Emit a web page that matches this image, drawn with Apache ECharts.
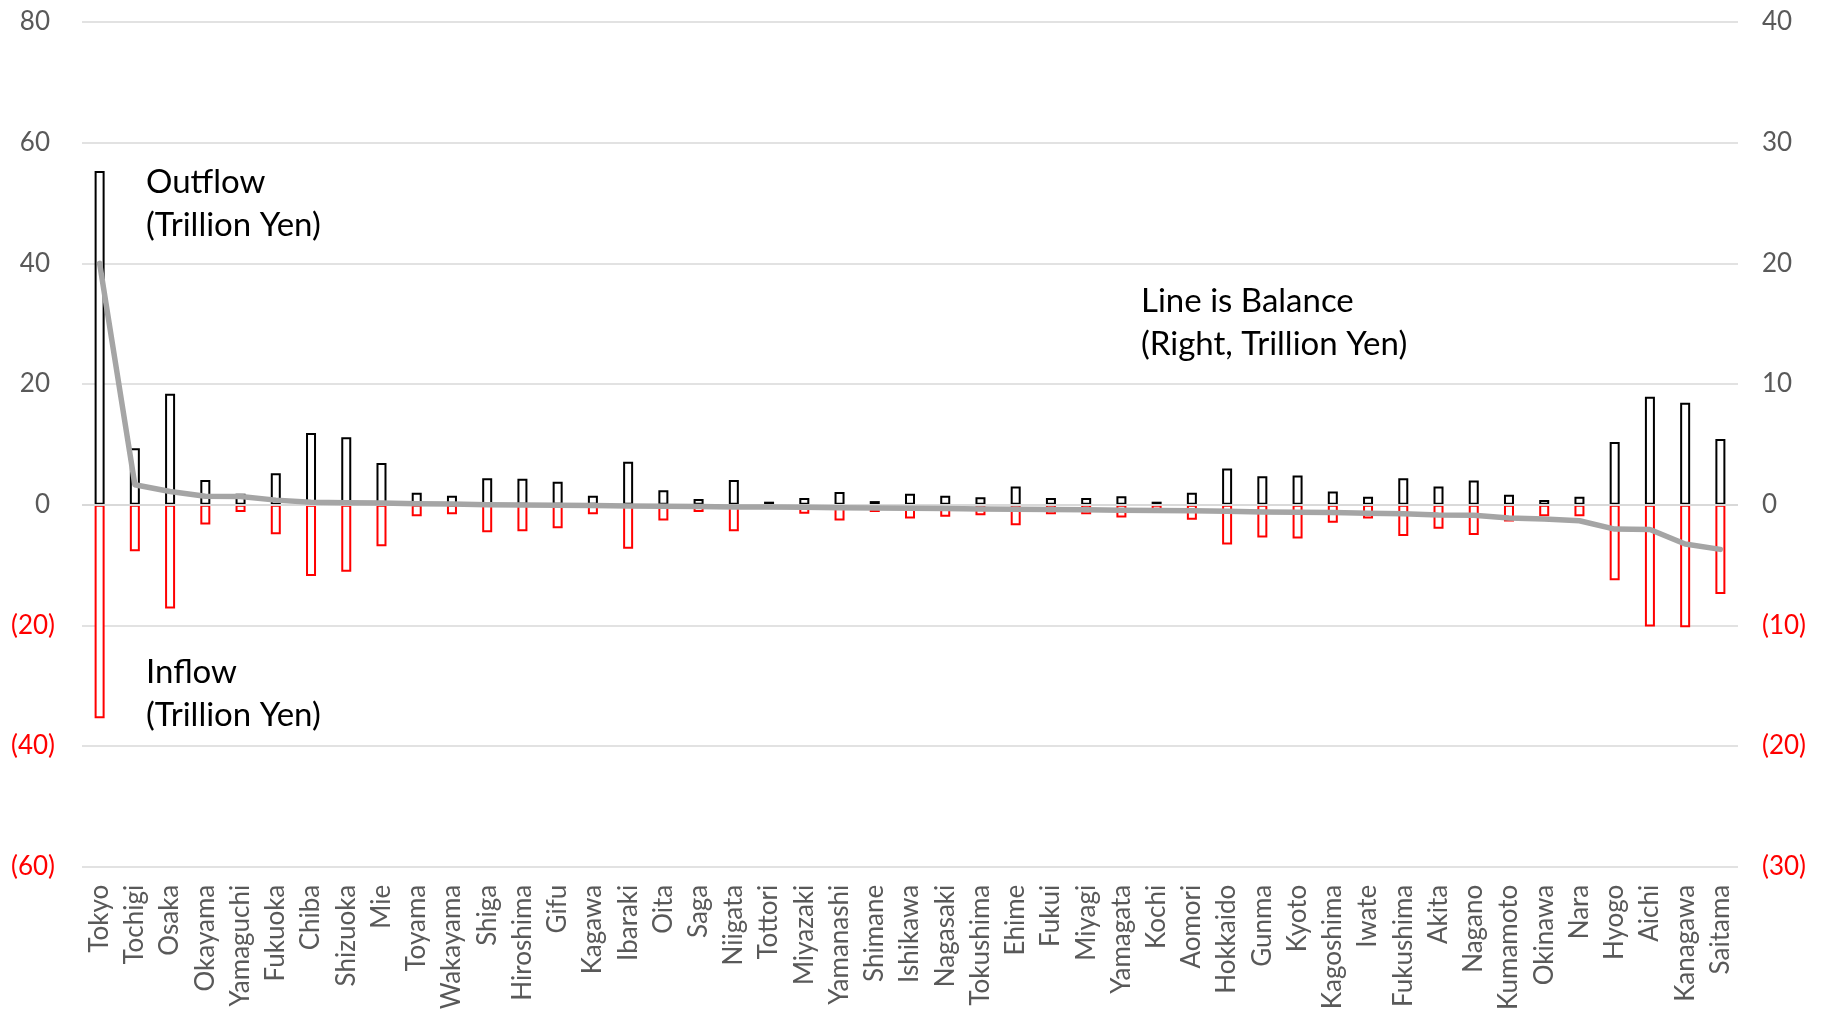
<!DOCTYPE html>
<html>
<head>
<meta charset="utf-8">
<title>Prefectural Outflow, Inflow and Balance</title>
<script src="https://cdn.jsdelivr.net/npm/echarts@6/dist/echarts.min.js"></script>
<style>
  html, body { margin: 0; padding: 0; background: #ffffff; }
  #chart { width: 1823px; height: 1013px; }
</style>
</head>
<body>
<div id="chart"></div>
<script>
// Prefectures, ordered by balance (largest surplus first)
const prefectures = [
  'Tokyo', 'Tochigi', 'Osaka', 'Okayama', 'Yamaguchi', 'Fukuoka', 'Chiba', 'Shizuoka',
  'Mie', 'Toyama', 'Wakayama', 'Shiga', 'Hiroshima', 'Gifu', 'Kagawa', 'Ibaraki',
  'Oita', 'Saga', 'Niigata', 'Tottori', 'Miyazaki', 'Yamanashi', 'Shimane', 'Ishikawa',
  'Nagasaki', 'Tokushima', 'Ehime', 'Fukui', 'Miyagi', 'Yamagata', 'Kochi', 'Aomori',
  'Hokkaido', 'Gunma', 'Kyoto', 'Kagoshima', 'Iwate', 'Fukushima', 'Akita', 'Nagano',
  'Kumamoto', 'Okinawa', 'Nara', 'Hyogo', 'Aichi', 'Kanagawa', 'Saitama'
];

// Outflow, trillion yen (left axis)
const outflow = [
  55.3, 9.35, 18.4, 4.1, 1.8, 5.2, 11.9, 11.2,
  6.9, 2.0, 1.5, 4.4, 4.3, 3.8, 1.5, 7.1,
  2.4, 0.95, 4.1, 0.5, 1.1, 2.1, 0.6, 1.8,
  1.5, 1.25, 3.0, 1.1, 1.1, 1.4, 0.5, 2.0,
  6.0, 4.7, 4.85, 2.2, 1.3, 4.4, 3.0, 4.0,
  1.65, 0.8, 1.3, 10.4, 17.9, 16.9, 10.9
];

// Inflow, trillion yen (left axis, drawn downward)
const inflow = [
  -35.4, -7.7, -17.2, -3.3, -1.2, -4.9, -11.8, -11.1,
  -6.9, -1.9, -1.6, -4.55, -4.4, -3.9, -1.6, -7.3,
  -2.6, -1.2, -4.4, -0.3, -1.5, -2.6, -1.2, -2.3,
  -2.0, -1.75, -3.4, -1.6, -1.6, -2.1, -0.85, -2.5,
  -6.6, -5.45, -5.6, -3.0, -2.3, -5.2, -4.0, -5.0,
  -2.8, -1.9, -1.9, -12.5, -20.2, -20.3, -14.8
];

// Balance, trillion yen (right axis)
const balance = [
  20.0, 1.66, 1.1, 0.7, 0.68, 0.38, 0.2, 0.17,
  0.14, 0.08, 0.06, 0.0, -0.02, -0.05, -0.07, -0.1,
  -0.13, -0.15, -0.18, -0.2, -0.22, -0.25, -0.27, -0.3,
  -0.32, -0.35, -0.38, -0.4, -0.42, -0.45, -0.47, -0.5,
  -0.55, -0.6, -0.62, -0.65, -0.7, -0.75, -0.85, -0.87,
  -1.1, -1.18, -1.33, -2.02, -2.05, -3.25, -3.7
];

// Axis ranges
const leftAxis = { min: -60, max: 80, interval: 20 };
const rightAxis = { min: -30, max: 40, interval: 10 };

const FONT = 'Lato';
const tickGray = '#595959';
const gridGray = '#D9D9D9';
const negRed = '#FF0000';

// Accounting style: negatives in red parentheses, positives leave room for ")"
function accountingLeft(v) {
  return v < 0 ? '{n|(' + Math.abs(v) + ')}' : '{p|' + v + '}';
}
function accountingRight(v) {
  return v < 0 ? '{n|(' + Math.abs(v) + ')}' : '{q|' + v + '}';
}
const accountingRich = {
  n: { color: negRed, fontFamily: FONT, fontSize: 26 },
  p: { color: tickGray, fontFamily: FONT, fontSize: 26, padding: [0, 5, 0, 0] },
  q: { color: tickGray, fontFamily: FONT, fontSize: 26 }
};

const chart = echarts.init(document.getElementById('chart'), null, { renderer: 'canvas' });

const noteStyle = { font: '33px Lato', fill: '#000000', lineHeight: 43 };

chart.setOption({
  backgroundColor: '#ffffff',
  animation: false,
  textStyle: { fontFamily: FONT },
  grid: { left: 82, right: 85, top: 22, bottom: 146, containLabel: false },
  xAxis: {
    type: 'category',
    data: prefectures,
    axisLine: { show: false },
    axisTick: { show: false },
    axisLabel: {
      rotate: 90,
      interval: 0,
      margin: 18,
      fontFamily: FONT,
      fontSize: 26,
      color: tickGray
    }
  },
  yAxis: [
    {
      type: 'value',
      position: 'left',
      min: leftAxis.min, max: leftAxis.max, interval: leftAxis.interval,
      axisLine: { show: false },
      axisTick: { show: false },
      splitLine: { lineStyle: { color: gridGray, width: 1.5 } },
      axisLabel: {
        margin: 27,
        formatter: accountingLeft,
        rich: accountingRich
      }
    },
    {
      type: 'value',
      position: 'right',
      min: rightAxis.min, max: rightAxis.max, interval: rightAxis.interval,
      axisLine: { show: false },
      axisTick: { show: false },
      splitLine: { show: false },
      axisLabel: {
        margin: 24,
        formatter: accountingRight,
        rich: accountingRich
      }
    }
  ],
  series: [
    {
      name: 'Outflow',
      type: 'bar',
      yAxisIndex: 0,
      data: outflow,
      barWidth: 10,
      barGap: '-100%',
      itemStyle: { color: '#ffffff', borderColor: '#000000', borderWidth: 2 },
      z: 2
    },
    {
      name: 'Inflow',
      type: 'bar',
      yAxisIndex: 0,
      data: inflow,
      barWidth: 10,
      barGap: '-100%',
      itemStyle: { color: '#ffffff', borderColor: negRed, borderWidth: 2 },
      // zero baseline drawn over the bar bases
      markLine: {
        silent: true,
        symbol: 'none',
        label: { show: false },
        lineStyle: { color: gridGray, width: 2, type: 'solid' },
        data: [{ yAxis: 0 }],
        z: 3
      },
      z: 2
    },
    {
      name: 'Balance',
      type: 'line',
      yAxisIndex: 1,
      data: balance,
      showSymbol: false,
      symbol: 'none',
      lineStyle: { color: '#A5A5A5', width: 5.5, cap: 'round', join: 'round' },
      z: 5
    }
  ],
  graphic: [
    {
      type: 'text', left: 146, top: 161,
      style: Object.assign({ text: 'Outflow\n(Trillion Yen)' }, noteStyle)
    },
    {
      type: 'text', left: 146, top: 651,
      style: Object.assign({ text: 'Inflow\n(Trillion Yen)' }, noteStyle)
    },
    {
      type: 'text', left: 1141, top: 280,
      style: Object.assign({ text: 'Line is Balance\n(Right, Trillion Yen)' }, noteStyle)
    }
  ]
});
</script>
</body>
</html>
